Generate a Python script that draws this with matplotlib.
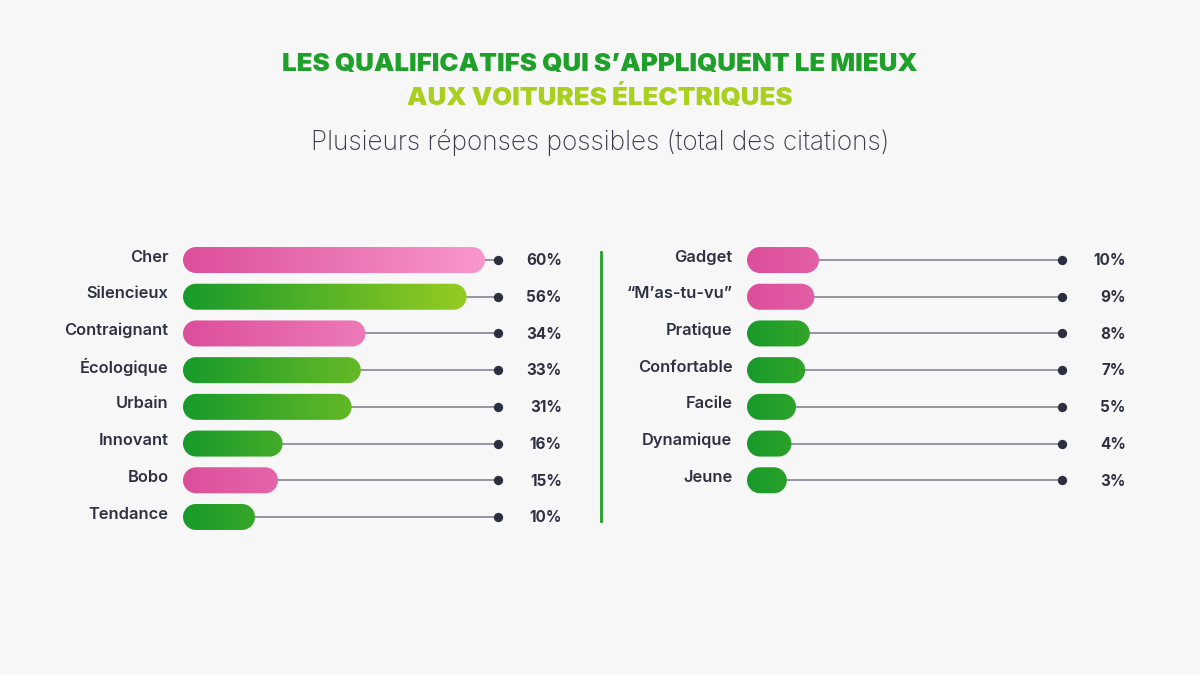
import numpy as np
import matplotlib.pyplot as plt
from matplotlib.patches import Polygon
from matplotlib.colors import LinearSegmentedColormap
from matplotlib.lines import Line2D

# data
left_labels = ["Cher", "Silencieux", "Contraignant", "Écologique", "Urbain",
               "Innovant", "Bobo", "Tendance"]
left_values = [60, 56, 34, 33, 31, 16, 15, 10]
left_groups = ["pink", "green", "pink", "green", "green", "green", "pink", "green"]

right_labels = ["Gadget", "\u201cM\u2019as-tu-vu\u201d", "Pratique", "Confortable",
                "Facile", "Dynamique", "Jeune"]
right_values = [10, 9, 8, 7, 5, 4, 3]
right_groups = ["pink", "pink", "green", "green", "green", "green", "green"]

title1 = "LES QUALIFICATIFS QUI S\u2019APPLIQUENT LE MIEUX"
title2 = "AUX VOITURES ÉLECTRIQUES"
subtitle = "Plusieurs réponses possibles (total des citations)"

# style
bg = "#f7f7f7"
text_c = "#2e3142"
line_c = "#8b8d99"
dot_c = "#2b2f40"
cmaps = {
    "pink": LinearSegmentedColormap.from_list("p", ["#dc4e9a", "#f898cc"]),
    "green": LinearSegmentedColormap.from_list("g", ["#179a2b", "#96cc22"]),
}
grad_ext = {"pink": (-3, 63), "green": (-3, 59)}
grad = np.linspace(0, 1, 256).reshape(1, -1)

plt.rcParams['font.family'] = ['Inter', 'DejaVu Sans']

W, H = 1200, 675
fig = plt.figure(figsize=(12, 6.75), dpi=100)
fig.patch.set_facecolor(bg)

px_per_unit = 4.6
cap = 13 / px_per_unit          # rounded end, in % units
bar_h = 26 / 36.7               # bar thickness, in row units
dot_x = 65.6
val_x = 79.5
label_x = -6.0
xlim = (-26 / px_per_unit, 379 / px_per_unit)
ylim = (7.6, -0.6)


def pill(x0, x1, yc):
    # stadium shape: half-ellipses (round in pixels) at both ends
    t = np.linspace(-np.pi / 2, np.pi / 2, 40)
    r = bar_h / 2
    right = np.column_stack([x1 + cap * np.cos(t), yc + r * np.sin(t)])
    left = np.column_stack([x0 - cap * np.cos(t), yc - r * np.sin(t)])
    return np.vstack([right, left])


def make_ax(x0_px):
    top, bottom = 238, 539
    ax = fig.add_axes([x0_px / W, 1 - bottom / H, 405 / W, (bottom - top) / H])
    ax.set_facecolor("none")
    return ax


def draw_panel(ax, labels, values, groups):
    for i, (lab, v, g) in enumerate(zip(labels, values, groups)):
        box = Polygon(pill(0, v, i), closed=True, facecolor="none",
                      edgecolor="none")
        ax.add_patch(box)
        e = grad_ext[g]
        im = ax.imshow(grad, cmap=cmaps[g], extent=(e[0], e[1], i - 0.5, i + 0.5),
                       aspect="auto", zorder=3, interpolation="bilinear")
        im.set_clip_path(box)
        ax.plot([v + cap, dot_x], [i, i], color=line_c, lw=1.3, zorder=1)
        ax.scatter([dot_x], [i], s=45, color=dot_c, zorder=4, linewidths=0)
        ax.text(val_x, i + 0.02, f"{v}%", ha="right", va="center",
                fontsize=11, fontweight="bold", color=text_c)
        ax.text(label_x, i - 0.08, lab, ha="right", va="center",
                fontsize=11.8, fontweight="semibold", color=text_c)
    ax.set_xlim(*xlim)
    ax.set_ylim(*ylim)
    ax.set_xticks([])
    ax.set_yticks([])
    for s in ax.spines.values():
        s.set_visible(False)


ax_l = make_ax(170)
draw_panel(ax_l, left_labels, left_values, left_groups)
ax_r = make_ax(734)
draw_panel(ax_r, right_labels, right_values, right_groups)

# divider
fig.add_artist(Line2D([601 / W, 601 / W], [1 - 252 / H, 1 - 521 / H],
                      color="#1fa02a", lw=2))

fig.text(0.5, 1 - 65 / H, title1, ha="center", va="center", fontsize=18.6,
         fontweight="black", color="#1fa02a")
fig.text(0.5, 1 - 97 / H, title2, ha="center", va="center", fontsize=18.6,
         fontweight="black", color="#a9d01f")
fig.text(0.5, 1 - 142 / H, subtitle, ha="center", va="center", fontsize=18.8,
         fontweight="light", color="#3a3b48")

fig.savefig("out.png", dpi=100, facecolor=bg)
